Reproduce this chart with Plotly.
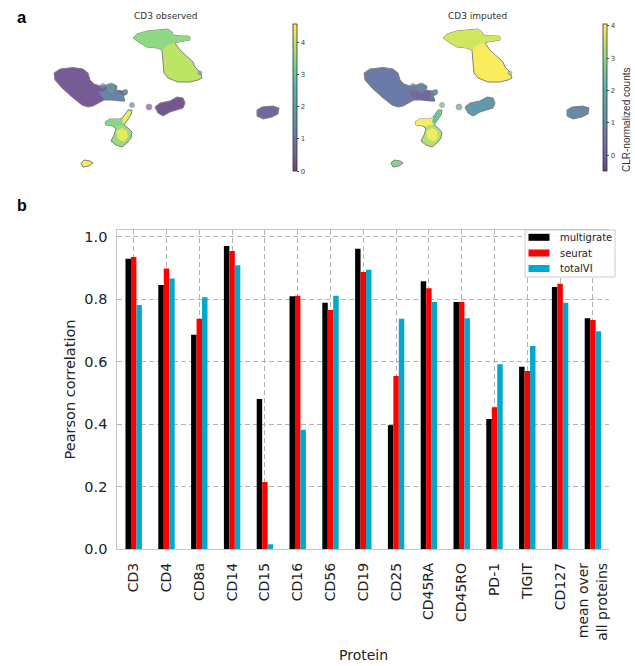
import plotly.graph_objects as go
from plotly.colors import sample_colorscale, hex_to_rgb, sequential

W, H = 635, 666
def px(x): return x / W
def py(y): return 1 - y / H

# ---------------- panel b data ----------------
proteins = ["CD3", "CD4", "CD8a", "CD14", "CD15", "CD16", "CD56", "CD19", "CD25",
            "CD45RA", "CD45RO", "PD-1", "TIGIT", "CD127", "mean over<br>all proteins"]
multigrate = [0.929, 0.845, 0.686, 0.970, 0.481, 0.809, 0.788, 0.961, 0.397,
              0.857, 0.791, 0.417, 0.584, 0.839, 0.739]
seurat = [0.935, 0.898, 0.737, 0.954, 0.215, 0.811, 0.765, 0.887, 0.554,
          0.835, 0.791, 0.454, 0.570, 0.849, 0.733]
totalvi = [0.781, 0.866, 0.806, 0.908, 0.016, 0.382, 0.811, 0.894, 0.737,
           0.791, 0.739, 0.592, 0.650, 0.788, 0.697]
methods = ["multigrate", "seurat", "totalVI"]
method_colors = ["#000000", "#FF0000", "#00A8CC"]
ytick_vals = [0.0, 0.2, 0.4, 0.6, 0.8, 1.0]

# ---------------- panel a data (UMAP cluster outlines, estimated) ----------------
t_main_u1 = [133, 137, 147, 160, 168, 172, 173, 180, 188, 190, 190, 178, 175, 180, 188, 193, 195, 200, 202, 198, 190, 178, 168, 164, 163, 162, 157, 147, 140]
t_main_u2 = [38, 34, 31, 30, 29, 32, 35, 36, 36, 37, 40, 42, 43, 50, 57, 62, 67, 72, 78, 80, 82, 82, 78, 73, 62, 50, 48, 47, 43]
t_up_u1 = [133, 137, 147, 160, 168, 172, 173, 180, 188, 190, 190, 178, 175, 170, 165, 162, 157, 147, 140]
t_up_u2 = [38, 34, 31, 30, 29, 32, 35, 36, 36, 37, 40, 42, 43, 44, 47, 50, 48, 47, 43]
mono_u1 = [54, 60, 73, 83, 88, 90, 94, 100, 107, 112, 117, 116, 122, 127, 127, 123, 124, 125, 120, 112, 104, 99, 93, 88, 82, 72, 62, 55]
mono_u2 = [73, 69, 67.5, 69, 73, 80, 84, 86, 85, 84, 86, 90, 91, 90, 94, 96, 98, 101, 101, 100, 100, 103, 106, 107, 105, 97, 88, 80]
tail_u1 = [98, 107, 117, 123, 125, 120, 112, 104]
tail_u2 = [92, 90, 91, 95, 101, 101, 100, 99]
mid_u1 = [155, 160, 170, 177, 183, 185, 183, 177, 170, 163, 158]
mid_u2 = [107, 103, 101, 97, 98, 103, 108, 110, 112, 116, 113]
right_u1 = [257, 262, 273, 279, 278, 272, 263, 257]
right_u2 = [110, 107, 106, 108, 114, 117, 119, 116]
b_main_u1 = [105, 110, 120, 123, 128, 132, 131, 126, 124, 128, 132, 131, 127, 122, 116, 111, 114, 116, 113, 106]
b_main_u2 = [122, 119, 119, 117, 110, 110, 115, 122, 125, 128, 132, 138, 143, 147, 145, 141, 135, 129, 126, 125]
b_up_u1 = [105, 110, 120, 123, 124, 116, 106]
b_up_u2 = [122, 119, 119, 117, 124, 126, 125]
b_strand_u1 = [123, 128, 131, 130, 126, 124, 122]
b_strand_u2 = [118, 111, 111, 115, 121, 124, 122]
b_low_u1 = [116, 122, 127, 128, 124, 118]
b_low_u2 = [131, 128, 131, 137, 142, 139]
blob_u1 = [81, 84, 90, 93, 89, 83]
blob_u2 = [163, 160, 161, 163, 166, 167]

# each patch: (umap1 outline, umap2 outline, CD3 observed, CD3 imputed, outlined)
patches = [
    (t_main_u1, t_main_u2, 3.95, 4.0, True),
    (t_up_u1, t_up_u2, 3.5, 3.6, False),
    (mono_u1, mono_u2, 0.45, 0.6, True),
    (tail_u1, tail_u2, 1.3, 0.2, False),
    (mid_u1, mid_u2, 0.35, 1.3, True),
    (right_u1, right_u2, 0.7, 0.9, True),
    (b_main_u1, b_main_u2, 3.6, 3.3, True),
    (b_up_u1, b_up_u2, 3.4, 4.0, False),
    (b_strand_u1, b_strand_u2, 4.4, 2.4, False),
    (b_low_u1, b_low_u2, 4.3, 3.9, False),
    (blob_u1, blob_u2, 4.45, 2.9, True),
]
# small cell groups drawn as dots
dot_u1 = [111, 103, 125, 122, 132, 149, 200]
dot_u2 = [88, 86, 92, 97, 105, 107, 73]
dot_size = [10, 5, 5, 4, 5, 6, 4]
dot_obs = [2.2, 2.0, 2.3, 1.8, 1.5, 0.6, 2.5]
dot_imp = [1.0, 1.0, 1.8, 1.4, 2.2, 1.6, 3.0]

obs_range = [0.0, 4.55]
imp_range = [-0.49, 4.04]
cbar_ticks = [0, 1, 2, 3, 4]

# faded viridis (alpha blended on white)
alpha = 0.75
vir = sequential.Viridis
scale = []
for i, hx in enumerate(vir):
    r, g, b = hex_to_rgb(hx)
    r = round(r * alpha + 255 * (1 - alpha))
    g = round(g * alpha + 255 * (1 - alpha))
    b = round(b * alpha + 255 * (1 - alpha))
    scale.append([i / (len(vir) - 1), f"rgb({r},{g},{b})"])

fig = go.Figure()

FONT = "DejaVu Sans"
# ---------------- bars ----------------
for name, vals, col in zip(methods, [multigrate, seurat, totalvi], method_colors):
    fig.add_trace(go.Bar(x=proteins, y=vals, name=name, showlegend=False,
                         marker=dict(color=col, line=dict(width=0)),
                         xaxis="x", yaxis="y"))


# ---------------- UMAPs ----------------
def add_umap(vals_idx, rng, xa, ya, cbx):
    lo, hi = rng
    for p in patches:
        u1, u2, vo, vi, outl = p
        v = vo if vals_idx == 0 else vi
        col = sample_colorscale(scale, [(v - lo) / (hi - lo)])[0]
        fig.add_trace(go.Scatter(
            x=u1 + [u1[0]], y=u2 + [u2[0]], mode="lines", fill="toself", fillcolor=col,
            line=dict(color="#808080" if outl else col, width=1 if outl else 0),
            hoverinfo="skip", showlegend=False, xaxis=xa, yaxis=ya))
    dv = dot_obs if vals_idx == 0 else dot_imp
    cb = dict(x=px(cbx), xanchor="left", xref="paper",
              y=py(24.3), yanchor="top", yref="paper",
              len=147.4, lenmode="pixels", thickness=4,
              thicknessmode="pixels", xpad=0, ypad=0,
              outlinewidth=0.8, outlinecolor="#333333",
              tickvals=cbar_ticks, ticks="outside", ticklen=2.5,
              tickcolor="#444444", tickwidth=0.8,
              tickfont=dict(size=7, color="#444444", family=FONT))
    mk = dict(size=dot_size, color=dv, colorscale=scale, cmin=lo, cmax=hi,
              line=dict(color="#808080", width=0.8), showscale=True, colorbar=cb)
    fig.add_trace(go.Scatter(x=dot_u1, y=dot_u2, mode="markers", showlegend=False,
                             hoverinfo="skip", xaxis=xa, yaxis=ya, marker=mk))


add_umap(0, obs_range, "x2", "y2", 293.3)
add_umap(1, imp_range, "x3", "y3", 602.7)

grid = dict(showgrid=True, gridcolor="#b4b4b4", griddash="5px,3px", gridwidth=1)
fig.update_layout(
    width=W, height=H, margin=dict(l=0, r=0, t=0, b=0),
    template="none", paper_bgcolor="white", plot_bgcolor="white",
    font=dict(family=FONT, color="#222222"),
    barmode="group", bargap=0.5, bargroupgap=0,
    showlegend=False,
    xaxis=dict(domain=[px(117.3), px(609.3)], range=[-0.5, 14.5], anchor="y",
               showline=True, linecolor="#c4c4c4", linewidth=1, mirror=True,
               tickangle=-90, ticks="outside", ticklen=7, tickcolor="rgba(0,0,0,0)",
               tickfont=dict(size=14, family=FONT, color="#222222"), zeroline=False, **grid),
    yaxis=dict(domain=[py(549.3), py(230)], range=[0, 1.021], anchor="x",
               showline=True, linecolor="#c4c4c4", linewidth=1,
               tickvals=ytick_vals, tickformat=".1f", ticks="outside", ticklen=6,
               tickcolor="rgba(0,0,0,0)", zeroline=False,
               tickfont=dict(size=14.5, family=FONT, color="#222222"), **grid),
    xaxis2=dict(domain=[px(30), px(290)], range=[30, 290], visible=False, anchor="y2"),
    yaxis2=dict(domain=[py(175), py(20)], range=[175, 20], visible=False, anchor="x2"),
    xaxis3=dict(domain=[px(340), px(600)], range=[30, 290], visible=False, anchor="y3"),
    yaxis3=dict(domain=[py(175), py(20)], range=[175, 20], visible=False, anchor="x3"),
)

# legend box (matplotlib-style)
leg_x0, leg_x1, leg_y0, leg_y1 = 525, 615, 230, 277
fig.add_shape(type="rect", xref="paper", yref="paper", layer="above",
              x0=px(leg_x0), x1=px(leg_x1), y0=py(leg_y1), y1=py(leg_y0),
              fillcolor="rgba(255,255,255,0.85)", line=dict(color="#cccccc", width=1))
row_y = [237.3, 253.0, 268.5]
for name, col, ry in zip(methods, method_colors, row_y):
    fig.add_shape(type="rect", xref="paper", yref="paper", layer="above",
                  x0=px(528.5), x1=px(549.5), y0=py(ry + 3.5), y1=py(ry - 3.5),
                  fillcolor=col, line=dict(width=0))
    fig.add_annotation(text=name, xref="paper", yref="paper", x=px(557.5), y=py(ry),
                       xanchor="left", yanchor="middle", showarrow=False,
                       font=dict(size=10, family=FONT, color="#222222"))

ann = [
    dict(text="<b>a</b>", x=px(21.5), y=py(17), font=dict(size=16.5, family="Liberation Sans", color="#000")),
    dict(text="<b>b</b>", x=px(21.5), y=py(205.5), font=dict(size=16, family="Liberation Sans", color="#000")),
    dict(text="CD3 observed", x=px(166), y=py(16), font=dict(size=9, family=FONT, color="#333")),
    dict(text="CD3 imputed", x=px(477), y=py(16), font=dict(size=9, family=FONT, color="#333")),
    dict(text="CLR-normalized counts", x=px(627), y=py(120), textangle=-90,
         font=dict(size=10, family="Liberation Sans", color="#333")),
    dict(text="Pearson correlation", x=px(70), y=py(389.5), textangle=-90,
         font=dict(size=14.5, family=FONT, color="#222")),
    dict(text="Protein", x=px(363), y=py(655), font=dict(size=14, family=FONT, color="#222")),
]
for a in ann:
    fig.add_annotation(xref="paper", yref="paper", showarrow=False,
                       xanchor="center", yanchor="middle", **a)

fig.write_html("out.html", config={"displayModeBar": False},
               post_script="document.body.style.margin='0px';"
                           "document.documentElement.style.overflow='hidden';")
